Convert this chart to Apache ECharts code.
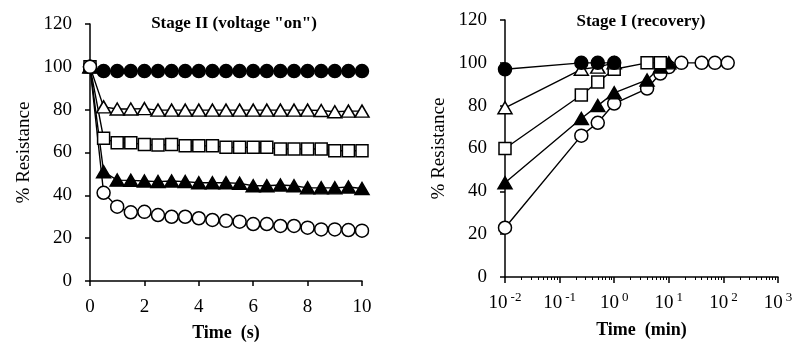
<!DOCTYPE html>
<html>
<head>
<meta charset="utf-8">
<script src="https://cdn.jsdelivr.net/npm/echarts@6/dist/echarts.min.js"></script>
<style>
html,body{margin:0;background:#fff}
#chart{width:796px;height:343px}
</style>
</head>
<body>
<div id="chart"></div>
<script>
// Stage II (voltage "on"), time in s
const onTime = [0,0.5,1,1.5,2,2.5,3,3.5,4,4.5,5,5.5,6,6.5,7,7.5,8,8.5,9,9.5,10];
const onFilledCircle = [100,98,98,98,98,98,98,98,98,98,98,98,98,98,98,98,98,98,98,98,98];
const onOpenTriangle = [100,81.3,80.3,80.3,80.5,79.8,79.8,79.8,79.8,79.8,79.8,79.8,79.8,79.8,79.8,79.8,79.8,79.6,79,79.3,79.3];
const onOpenSquare = [100,66.6,64.5,64.5,63.7,63.5,63.7,63.1,63.1,63.1,62.4,62.4,62.4,62.4,61.6,61.6,61.6,61.6,60.8,60.8,60.8];
const onFilledTriangle = [100,51,47.1,47,46.7,46.4,46.7,46.4,45.9,45.9,45.9,45.6,44.5,44.5,44.8,44.5,43.5,43.5,43.5,43.9,43.2];
const onOpenCircle = [100,41.2,34.7,32.1,32.3,30.8,30,30,29.3,28.5,28.1,27.7,26.6,26.6,25.7,25.7,24.9,24.1,24.1,23.8,23.5];

// Stage I (recovery), time in min
const recFilledCircleTime = [0.01,0.25,0.5,1];
const recFilledCircle = [97,100,100,100];
const recOpenTriangleTime = [0.01,0.25,0.5,1];
const recOpenTriangle = [79,97,98,100];
const recOpenSquareTime = [0.01,0.25,0.5,1,4,7];
const recOpenSquare = [60,85,91,97,100,100];
const recFilledTriangleTime = [0.01,0.25,0.5,1,4,7,10];
const recFilledTriangle = [44,74,80,86,92,98,100];
const recOpenCircleTime = [0.01,0.25,0.5,1,4,7,10,17,40,70,120];
const recOpenCircle = [23,66,72,81,88,95,98,100,100,100,100];

const logMinorTicks = [0.02,0.03,0.04,0.05,0.06,0.07,0.08,0.09,
  0.2,0.3,0.4,0.5,0.6,0.7,0.8,0.9,2,3,4,5,6,7,8,9,
  20,30,40,50,60,70,80,90,200,300,400,500,600,700,800,900];

const FONT = 'Liberation Serif';

const pairs = (xs, ys) => xs.map((x, i) => [x, ys[i]]);

function mkSeries(name, xi, data, symbol, filled) {
  return {
    name: name,
    type: 'line',
    xAxisIndex: xi,
    yAxisIndex: xi === 0 ? 0 : 1,
    data: data,
    symbol: symbol,
    symbolSize: symbol === 'triangle' ? [14, 12] : (symbol === 'rect' ? 12 : 13),
    lineStyle: {color: '#000', width: 1.4},
    itemStyle: {color: filled ? '#000' : '#fff', borderColor: '#000', borderWidth: 1.5},
    animation: false
  };
}

const yAxisBase = {
  type: 'value', min: 0, max: 120, interval: 20,
  name: '% Resistance', nameLocation: 'middle', nameGap: 56,
  nameTextStyle: {fontFamily: FONT, fontSize: 19, color: '#000'},
  axisLine: {show: true, lineStyle: {color: '#000', width: 1.5}},
  axisTick: {show: true, length: 5, lineStyle: {color: '#000', width: 1.5}},
  axisLabel: {fontFamily: FONT, fontSize: 19, color: '#000', margin: 18},
  splitLine: {show: false}
};

const chart = echarts.init(document.getElementById('chart'));
chart.setOption({
  backgroundColor: '#fff',
  animation: false,
  title: [
    {text: 'Stage II (voltage "on")', left: 229, top: 10, textAlign: 'center',
     textStyle: {fontFamily: FONT, fontSize: 17, fontWeight: 'bold', color: '#000'}},
    {text: 'Stage I (recovery)', left: 636, top: 8, textAlign: 'center',
     textStyle: {fontFamily: FONT, fontSize: 17, fontWeight: 'bold', color: '#000'}}
  ],
  grid: [
    {left: 90, right: 434, top: 24, bottom: 62, containLabel: false, outerBoundsMode: 'none'},
    {left: 505, right: 18, top: 20, bottom: 66, containLabel: false, outerBoundsMode: 'none'}
  ],
  xAxis: [
    {
      gridIndex: 0, type: 'value', min: 0, max: 10, interval: 2,
      name: 'Time  (s)', nameLocation: 'middle', nameGap: 43,
      nameTextStyle: {fontFamily: FONT, fontSize: 18, fontWeight: 'bold', color: '#000'},
      axisLine: {lineStyle: {color: '#000', width: 1.5}},
      axisTick: {length: 5, lineStyle: {color: '#000', width: 1.5}},
      axisLabel: {fontFamily: FONT, fontSize: 19, color: '#000', margin: 17},
      splitLine: {show: false}
    },
    {
      gridIndex: 1, type: 'log', logBase: 10, min: 0.01, max: 1000,
      name: 'Time  (min)', nameLocation: 'middle', nameGap: 44,
      nameTextStyle: {fontFamily: FONT, fontSize: 18, fontWeight: 'bold', color: '#000'},
      axisLine: {lineStyle: {color: '#000', width: 1.5}},
      axisTick: {length: 6, lineStyle: {color: '#000', width: 1.5}},
      axisLabel: {
        margin: 14,
        formatter: v => '{b|10}{s|' + Math.round(Math.log10(v)) + '}',
        rich: {
          b: {fontFamily: FONT, fontSize: 19, color: '#000', lineHeight: 22},
          s: {fontFamily: FONT, fontSize: 13, color: '#000', padding: [0, 0, 12, 3]}
        }
      },
      splitLine: {show: false}
    },
    {
      gridIndex: 1, type: 'log', logBase: 10, min: 0.01, max: 1000, position: 'bottom',
      axisLine: {show: false},
      axisTick: {show: true, length: 3, customValues: logMinorTicks, lineStyle: {color: '#000', width: 1}},
      axisLabel: {show: false},
      splitLine: {show: false}
    }
  ],
  yAxis: [
    Object.assign({gridIndex: 0}, yAxisBase),
    Object.assign({gridIndex: 1}, yAxisBase)
  ],
  series: [
    mkSeries('on filled circle', 0, pairs(onTime, onFilledCircle), 'circle', true),
    mkSeries('on open triangle', 0, pairs(onTime, onOpenTriangle), 'triangle', false),
    mkSeries('on open square', 0, pairs(onTime, onOpenSquare), 'rect', false),
    mkSeries('on filled triangle', 0, pairs(onTime, onFilledTriangle), 'triangle', true),
    mkSeries('on open circle', 0, pairs(onTime, onOpenCircle), 'circle', false),
    mkSeries('rec open circle', 1, pairs(recOpenCircleTime, recOpenCircle), 'circle', false),
    mkSeries('rec filled triangle', 1, pairs(recFilledTriangleTime, recFilledTriangle), 'triangle', true),
    mkSeries('rec open square', 1, pairs(recOpenSquareTime, recOpenSquare), 'rect', false),
    mkSeries('rec open triangle', 1, pairs(recOpenTriangleTime, recOpenTriangle), 'triangle', false),
    mkSeries('rec filled circle', 1, pairs(recFilledCircleTime, recFilledCircle), 'circle', true)
  ]
});
</script>
</body>
</html>
